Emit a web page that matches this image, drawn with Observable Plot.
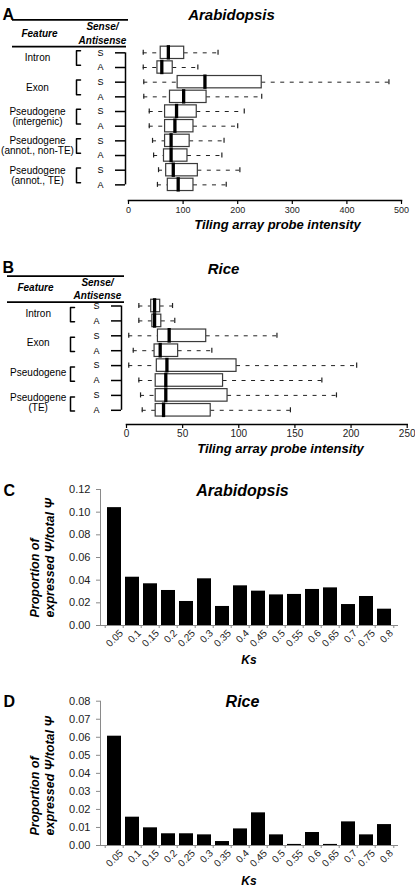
<!DOCTYPE html>
<html><head><meta charset="utf-8">
<script src="https://cdn.jsdelivr.net/npm/d3@7"></script>
<script src="https://cdn.jsdelivr.net/npm/@observablehq/plot@0.6"></script>
<style>
body{margin:0;background:#fff;}
#wrap{position:relative;width:415px;height:891px;}
#wrap svg{position:absolute;left:0;}
</style></head><body><div id="wrap"></div>
<script>
// ---------- Panel A : Arabidopsis tiling array box plots ----------
const arabFeatures = ["Intron","Exon","Pseudogene\n(intergenic)","Pseudogene\n(annot., non-TE)","Pseudogene\n(annot., TE)"];
const arabStrand = ["S","A","S","A","S","A","S","A","S","A"];
const arabLow  = [27, 27, 28, 28, 38, 38, 44, 46, 55, 53];
const arabQ1   = [59, 53, 90, 76, 67, 67, 67, 65, 69, 72];
const arabMed  = [73, 61, 140, 101, 88, 85, 78, 78, 82, 91];
const arabQ3   = [102, 81, 244, 143, 125, 119, 112, 108, 127, 119];
const arabHigh = [164, 127, 477, 244, 212, 200, 175, 171, 204, 179];
const arabTicks = [0, 100, 200, 300, 400, 500];

// ---------- Panel B : Rice tiling array box plots ----------
const riceFeatures = ["Intron","Exon","Pseudogene","Pseudogene\n(TE)"];
const riceStrand = ["S","A","S","A","S","A","S","A"];
const riceLow  = [11, 11, 2, 6, 2, 11, 12.5, 14];
const riceQ1   = [22, 23, 28, 25, 27, 26, 26, 26];
const riceMed  = [25, 25, 38, 30, 36, 35, 35, 33];
const riceQ3   = [30, 31, 71, 46, 98, 86, 90, 75];
const riceHigh = [41, 43, 134, 76, 205, 174, 187, 146];
const riceTicks = [0, 50, 100, 150, 200, 250];

// ---------- Panels C, D : proportion of expressed pseudogenes by Ks ----------
const ksLabels = ["0.05","0.1","0.15","0.2","0.25","0.3","0.35","0.4","0.45","0.5","0.55","0.6","0.65","0.7","0.75","0.8"];
const arabProp = [0.104, 0.0426, 0.0368, 0.0309, 0.0212, 0.0412, 0.0168, 0.035, 0.0303, 0.027, 0.0274, 0.0318, 0.0332, 0.0185, 0.0256, 0.0144];
const riceProp = [0.0606, 0.0157, 0.0098, 0.0065, 0.0065, 0.0059, 0.0022, 0.0092, 0.0181, 0.0059, 0.0006, 0.0072, 0.0006, 0.0131, 0.0059, 0.0116];
const arabPropTicks = [0, 0.02, 0.04, 0.06, 0.08, 0.10, 0.12];
const ricePropTicks = [0, 0.01, 0.02, 0.03, 0.04, 0.05, 0.06, 0.07, 0.08];

const FONT = "'Liberation Sans', Arial, Helvetica, sans-serif";
const wrap = document.getElementById("wrap");

function boxPanel(o) {
  const n = o.low.length;
  const rows = d3.range(n).map(i => ({i, s: o.strand[i], low: o.low[i], q1: o.q1[i], med: o.med[i], q3: o.q3[i], high: o.high[i]}));
  const feats = o.features.map((t, k) => ({t, r: 2 * k}));
  const xs = d3.scaleLinear([0, o.xMax], [o.mL, o.W - o.mR]);
  const X = p => xs.invert(p);          // pixel position in the left table -> x value
  const dx = p => p - o.mL;             // pixel offset from frame left
  const h = o.hdr, t = o.tab;
  const brackets = feats.flatMap((f, k) => [
    {k, x: X(t.brX + 4), y: f.r + t.br0}, {k, x: X(t.brX), y: f.r + t.br0},
    {k, x: X(t.brX), y: f.r + t.br1}, {k, x: X(t.brX + 4), y: f.r + t.br1}]);
  const bold = {fontWeight: "bold", fontStyle: "italic", fill: "black"};
  return Plot.plot({
    width: o.W, height: o.H, marginLeft: o.mL, marginRight: o.mR, marginTop: o.mT, marginBottom: o.mB,
    style: {fontFamily: FONT, background: "white", overflow: "visible"},
    x: {domain: [0, o.xMax]},
    y: {domain: [-0.5, n - 0.5], reverse: true, insetBottom: o.insetB, axis: null},
    marks: [
      // table header
      Plot.ruleY([{y: h.top, x1: X(t.ruleL), x2: X(t.ruleR1)}, {y: h.bottom, x1: X(t.ruleL), x2: X(t.ruleR2)}],
        {y: "y", x1: "x1", x2: "x2", stroke: "black", strokeWidth: 1.8}),
      Plot.text([{y: h.feat, s: "Feature"}], {y: "y", text: "s", frameAnchor: "left", dx: dx(t.featHdrX), textAnchor: "middle", fontSize: 10, ...bold}),
      Plot.text([{y: h.sense, s: "Sense/"}, {y: h.anti, s: "Antisense"}], {y: "y", text: "s", frameAnchor: "left", dx: dx(t.senseX), textAnchor: "middle", fontSize: 10, ...bold}),
      // feature labels and brackets
      Plot.text(feats, {y: d => d.r + t.featOff, text: "t", frameAnchor: "left", dx: dx(t.featX), textAnchor: "middle", fontSize: 10, lineHeight: 1.0, fill: "black"}),
      Plot.line(brackets, {x: "x", y: "y", z: "k", stroke: "black", strokeWidth: 1.5}),
      Plot.text(rows, {y: "i", text: "s", frameAnchor: "left", dx: dx(t.saX), textAnchor: "middle", fontSize: 9, fill: "black"}),
      Plot.ruleY(rows, {y: "i", x1: () => X(t.tickL), x2: () => X(t.tickR), stroke: "black", strokeWidth: 1.5}),
      Plot.ruleX([{x: X(t.tickR), y1: 0, y2: n - 1}], {x: "x", y1: "y1", y2: "y2", stroke: "black", strokeWidth: 1.5}),
      // box plots
      Plot.ruleY(rows, {y: "i", x1: "low", x2: "q1", stroke: "#222", strokeDasharray: "4,5.5"}),
      Plot.ruleY(rows, {y: "i", x1: "q3", x2: "high", stroke: "#222", strokeDasharray: "4,5.5"}),
      Plot.ruleX(rows, {x: "low", y1: d => d.i - 0.17, y2: d => d.i + 0.17, stroke: "#222", strokeWidth: 1.2}),
      Plot.ruleX(rows, {x: "high", y1: d => d.i - 0.17, y2: d => d.i + 0.17, stroke: "#222", strokeWidth: 1.2}),
      Plot.rect(rows, {x1: "q1", x2: "q3", y1: d => d.i - 0.42, y2: d => d.i + 0.42, fill: "white", stroke: "#3a3a3a", strokeWidth: 1.2}),
      Plot.ruleX(rows, {x: "med", y1: d => d.i - 0.49, y2: d => d.i + 0.49, stroke: "black", strokeWidth: 3.3}),
      // axis
      Plot.frame({anchor: "bottom", stroke: "black", strokeWidth: 1.5}),
      Plot.axisX({ticks: o.ticks, tickSize: 4, tickPadding: o.tickPad, fontSize: o.tickFont, label: null, stroke: "black", strokeWidth: 1.2, fill: "#222"}),
      Plot.text([o.axisTitle], {frameAnchor: "bottom", dx: o.axisTitleX - (o.mL + o.W - o.mR) / 2, dy: o.axisTitleDy, fontSize: 13, ...bold}),
      // titles
      Plot.text([o.title], {frameAnchor: "top-left", dx: dx(o.titleX), dy: o.titleDy, textAnchor: "middle", fontSize: 15, ...bold}),
      Plot.text([o.letter], {frameAnchor: "top-left", dx: dx(2), dy: o.letterDy, textAnchor: "start", fontSize: 16, fontWeight: "bold", fill: "black"})
    ]
  });
}

function barPanel(o) {
  const data = o.ks.map((k, i) => ({k, v: o.vals[i]}));
  const n = o.ks.length;
  const step = (o.W - o.mL - o.mR) / (n - 0.25 + 0.2);
  const fcx = (o.mL + o.W - o.mR) / 2;
  const bold = {fontWeight: "bold", fontStyle: "italic", fill: "black"};
  return Plot.plot({
    width: o.W, height: o.H, marginLeft: o.mL, marginRight: o.mR, marginTop: o.mT, marginBottom: o.mB,
    style: {fontFamily: FONT, background: "white", overflow: "visible"},
    x: {type: "band", domain: o.ks, paddingInner: 0.25, paddingOuter: 0.1, label: null},
    y: {domain: [0, o.yMax], label: null},
    marks: [
      Plot.barY(data, {x: "k", y: "v", fill: "black"}),
      Plot.frame({anchor: "left", stroke: "#8a8a8a"}),
      Plot.frame({anchor: "bottom", stroke: "#8a8a8a"}),
      Plot.axisY({ticks: o.yTicks, tickFormat: ".2f", tickSize: 4, tickPadding: 6, fontSize: 11, stroke: "#8a8a8a", fill: "#222", label: null}),
      Plot.axisX({tickSize: 3, tickFormat: () => "", label: null, dx: -step / 2, stroke: "#8a8a8a"}),
      Plot.axisX({ticks: [o.ks[n - 1]], tickSize: 3, tickFormat: () => "", label: null, dx: step / 2, stroke: "#8a8a8a"}),
      Plot.axisX({tickSize: 0, tickRotate: -45, tickPadding: 6, fontSize: 10, fill: "#222", label: null, dx: 7}),
      Plot.text(["Ks"], {frameAnchor: "bottom", dy: o.ksDy, fontSize: 12, ...bold}),
      Plot.text(["Proportion of"], {frameAnchor: "bottom-left", dx: 38 - o.mL, dy: o.yTitleDy, rotate: -90, textAnchor: "start", fontSize: 12.5, ...bold}),
      Plot.text(["expressed \u03A8/total \u03A8"], {frameAnchor: "bottom-left", dx: 53 - o.mL, dy: o.yTitleDy, rotate: -90, textAnchor: "start", fontSize: 12.5, ...bold}),
      Plot.text([o.title], {frameAnchor: "top", dx: o.titleX - fcx, dy: o.titleDy, fontSize: 16, ...bold}),
      Plot.text([o.letter], {frameAnchor: "top-left", dx: 3 - o.mL, dy: o.titleDy, textAnchor: "start", fontSize: 16, fontWeight: "bold", fill: "black"})
    ]
  });
}

const pA = boxPanel({
  W: 415, H: 240, mL: 128, mR: 14, mT: 45, mB: 40, insetB: 8.3, xMax: 500,
  features: arabFeatures, strand: arabStrand, low: arabLow, q1: arabQ1, med: arabMed, q3: arabQ3, high: arabHigh,
  ticks: arabTicks, tickFont: 9, tickPad: 2,
  hdr: {top: -2.25, sense: -1.79, feat: -1.32, anti: -0.84, bottom: -0.43},
  tab: {ruleL: 12, ruleR1: 128, ruleR2: 126, featHdrX: 39, senseX: 102, featX: 37, featOff: 0.35,
        brX: 76, br0: -0.15, br1: 0.85, saX: 100, tickL: 115, tickR: 125},
  axisTitle: "Tiling array probe intensity", axisTitleX: 277, axisTitleDy: 28,
  title: "Arabidopsis", titleX: 231, titleDy: -36, letter: "A", letterDy: -37
});
pA.style.top = "0px";
wrap.appendChild(pA);

const pB = boxPanel({
  W: 415, H: 230, mL: 126, mR: 8.3, mT: 58.05, mB: 46, insetB: 6.75, xMax: 250,
  features: riceFeatures, strand: riceStrand, low: riceLow, q1: riceQ1, med: riceMed, q3: riceQ3, high: riceHigh,
  ticks: riceTicks, tickFont: 10, tickPad: 1,
  hdr: {top: -2.0, sense: -1.56, feat: -1.22, anti: -0.70, bottom: -0.26},
  tab: {ruleL: 7, ruleR1: 124, ruleR2: 124, featHdrX: 35, senseX: 97, featX: 37.7, featOff: 0.5,
        brX: 70, br0: 0.1, br1: 1.05, saX: 96, tickL: 111, tickR: 121},
  axisTitle: "Tiling array probe intensity", axisTitleX: 280, axisTitleDy: 28,
  title: "Rice", titleX: 223, titleDy: -35.5, letter: "B", letterDy: -37
});
pB.style.top = "240px";
wrap.appendChild(pB);

const pC = barPanel({
  W: 415, H: 200, mL: 100, mR: 18, mT: 19, mB: 45, ks: ksLabels, vals: arabProp, yMax: 0.12, yTicks: arabPropTicks,
  ksDy: 38, yTitleDy: -8, title: "Arabidopsis", titleX: 242, titleDy: -5, letter: "C"
});
pC.style.top = "470px";
wrap.appendChild(pC);

const pD = barPanel({
  W: 415, H: 221, mL: 100, mR: 18, mT: 30.7, mB: 46, ks: ksLabels, vals: riceProp, yMax: 0.08, yTicks: ricePropTicks,
  ksDy: 39, yTitleDy: -10, title: "Rice", titleX: 242, titleDy: -5.7, letter: "D"
});
pD.style.top = "670px";
wrap.appendChild(pD);
</script></body></html>
